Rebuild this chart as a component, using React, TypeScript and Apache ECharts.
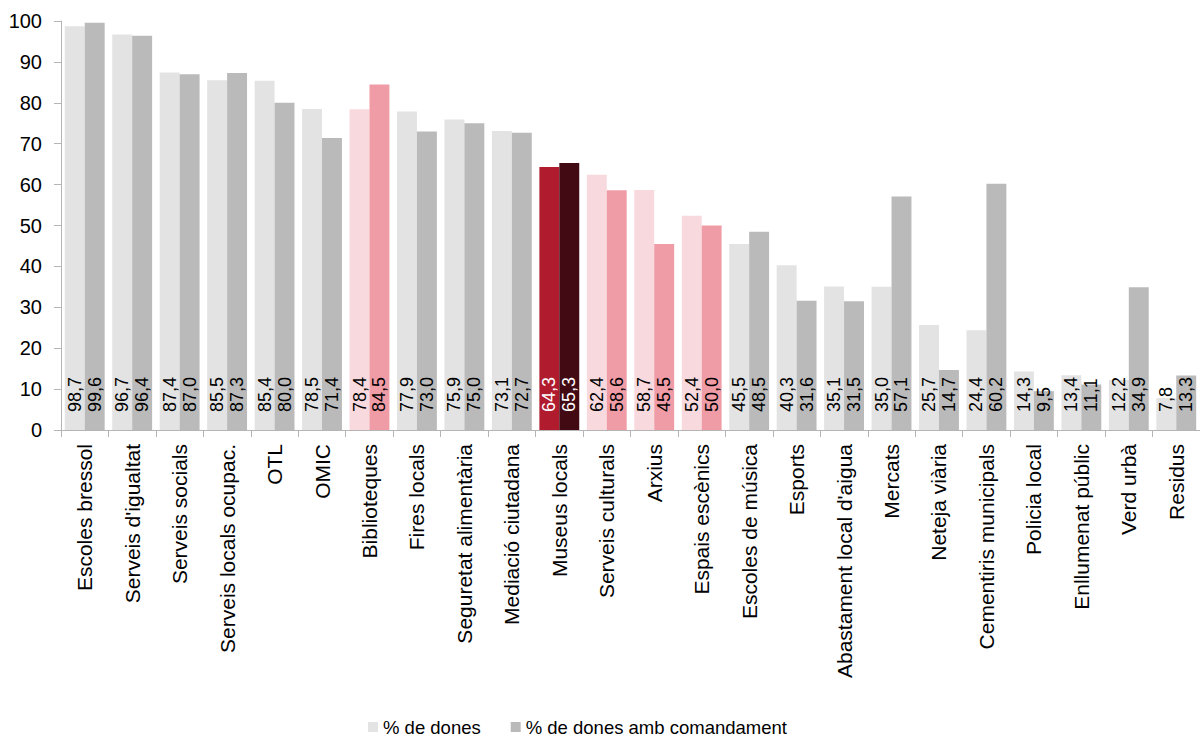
import React, { useEffect, useRef } from "react";
import * as echarts from "echarts";

const categories = [
  "Escoles bressol", "Serveis d'igualtat", "Serveis socials", "Serveis locals ocupac.", "OTL", "OMIC",
  "Biblioteques", "Fires locals", "Seguretat alimentària", "Mediació ciutadana", "Museus locals",
  "Serveis culturals", "Arxius", "Espais escènics", "Escoles de música", "Esports",
  "Abastament local d'aigua", "Mercats", "Neteja viària", "Cementiris municipals", "Policia local",
  "Enllumenat públic", "Verd urbà", "Residus",
];
const women = [98.7, 96.7, 87.4, 85.5, 85.4, 78.5, 78.4, 77.9, 75.9, 73.1, 64.3, 62.4, 58.7, 52.4, 45.5, 40.3, 35.1, 35.0, 25.7, 24.4, 14.3, 13.4, 12.2, 7.8];
const womenCommand = [99.6, 96.4, 87.0, 87.3, 80.0, 71.4, 84.5, 73.0, 75.0, 72.7, 65.3, 58.6, 45.5, 50.0, 48.5, 31.6, 31.5, 57.1, 14.7, 60.2, 9.5, 11.1, 34.9, 13.3];
const seriesNames = ["% de dones", "% de dones amb comandament"];
const pinkCategories = ["Biblioteques", "Serveis culturals", "Arxius", "Espais escènics"];
const highlightCategory = "Museus locals";

const FONT = "'Liberation Sans', Arial, sans-serif";
const baseColors = ["#e3e3e3", "#bababa"];
const pinkColors = ["#f8d9de", "#ef9ca6"];
const redColors = ["#b01c2e", "#420a13"];

function fmt(v: number) {
  return v.toFixed(1).replace(".", ",");
}

function buildData(values: number[], idx: number) {
  return values.map((v, i) => {
    const cat = categories[i];
    let color = baseColors[idx];
    let labelColor = "#000";
    if (pinkCategories.includes(cat)) color = pinkColors[idx];
    if (cat === highlightCategory) {
      color = redColors[idx];
      labelColor = "#fff";
    }
    return { value: v, itemStyle: { color }, label: { color: labelColor } };
  });
}

export default function App() {
  const ref = useRef<HTMLDivElement>(null);
  useEffect(() => {
    if (!ref.current) return;
    const chart = echarts.init(ref.current, null, { renderer: "svg" });
    const labelCfg = {
      show: true,
      position: "insideBottom",
      rotate: 90,
      align: "left",
      verticalAlign: "middle",
      distance: 18,
      fontSize: 18,
      fontFamily: FONT,
      formatter: (p: any) => fmt(p.value),
    };
    chart.setOption({
      animation: false,
      grid: { left: 61, right: 0, top: 21, bottom: 307, containLabel: false },
      legend: {
        data: [
          { name: seriesNames[0], itemStyle: { color: baseColors[0] } },
          { name: seriesNames[1], itemStyle: { color: baseColors[1] } },
        ],
        left: 368,
        top: 716,
        padding: 0,
        icon: "rect",
        itemWidth: 10,
        itemHeight: 10,
        itemGap: 30,
        textStyle: { fontSize: 18.5, fontFamily: FONT, color: "#000", lineHeight: 22 },
      },
      xAxis: {
        type: "category",
        data: categories,
        axisLine: { lineStyle: { color: "#b5b5b5" } },
        axisTick: { show: true, length: 7, lineStyle: { color: "#b5b5b5" } },
        axisLabel: { rotate: 90, fontSize: 21, fontFamily: FONT, color: "#000", margin: 14, interval: 0 },
      },
      yAxis: {
        type: "value",
        min: 0,
        max: 100,
        interval: 10,
        splitLine: { show: false },
        axisLine: { show: true, lineStyle: { color: "#b5b5b5" } },
        axisTick: { show: true, length: 7, lineStyle: { color: "#b5b5b5" } },
        axisLabel: { fontSize: 20, fontFamily: FONT, color: "#000", margin: 19 },
      },
      series: [
        {
          name: seriesNames[0],
          type: "bar",
          data: buildData(women, 0),
          barGap: "0%",
          barCategoryGap: "16%",
          label: labelCfg,
        },
        {
          name: seriesNames[1],
          type: "bar",
          data: buildData(womenCommand, 1),
          barGap: "0%",
          barCategoryGap: "16%",
          label: labelCfg,
        },
      ],
    });
    return () => chart.dispose();
  }, []);
  return (
    <div
      ref={ref}
      style={{ position: "fixed", left: 0, top: 0, width: 1200, height: 737, background: "#fff" }}
    />
  );
}
